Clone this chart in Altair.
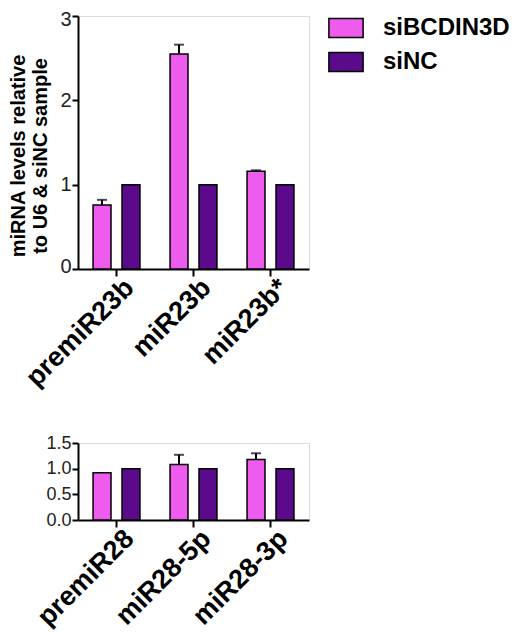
import altair as alt
import pandas as pd

series = ["siBCDIN3D", "siNC"]
colors = ["#EE5CEE", "#5C0A8C"]

top_cats = ["premiR23b", "miR23b", "miR23b*"]
top_si = [0.76, 2.55, 1.16]
top_si_err = [0.06, 0.11, 0.01]
top_nc = [1.0, 1.0, 1.0]

bot_cats = ["premiR28", "miR28-5p", "miR28-3p"]
bot_si = [0.92, 1.08, 1.18]
bot_si_err = [0.0, 0.19, 0.12]
bot_nc = [1.0, 1.0, 1.0]

FONT = "Liberation Sans"


def make_df(cats, si, err, nc):
    rows = []
    for c, v, e in zip(cats, si, err):
        rows.append({"cat": c, "series": series[0], "value": v, "err": e, "upper": v + e})
    for c, v in zip(cats, nc):
        rows.append({"cat": c, "series": series[1], "value": v, "err": 0.0, "upper": v})
    return pd.DataFrame(rows)


def panel(df, cats, ymax, yticks, fmt, height, ytitle, show_legend, min_extent,
          ylabel_size, flush):
    xaxis = alt.Axis(labelAngle=-45, labelFontSize=27, labelFontWeight="bold",
                     labelColor="black", labelFont=FONT,
                     labelAlign="right", labelBaseline="top", labelOffset=4,
                     tickSize=7, tickWidth=2, tickColor="black",
                     domainColor="black", domainWidth=2, labelPadding=-2)
    xscale = alt.Scale(paddingInner=0, paddingOuter=0)
    xoff = alt.XOffset("series:N", sort=series,
                       scale=alt.Scale(paddingInner=0.38, paddingOuter=0.52))
    axis_kw = dict(values=yticks, format=fmt, grid=False, labelFontSize=ylabel_size,
                   labelColor="#222222", labelFont=FONT, labelOverlap=False,
                   tickSize=6, tickWidth=2, tickColor="black",
                   domainColor="black", domainWidth=2, labelPadding=1,
                   titleFontSize=20, titleFontWeight="bold", titleFont=FONT,
                   titleColor="black", titlePadding=9, titleLineHeight=22,
                   titleY=height / 2 + 13)
    if flush:
        axis_kw["labelFlush"] = True
        axis_kw["labelFlushOffset"] = 7
    if min_extent is not None:
        axis_kw["minExtent"] = min_extent
    yaxis = alt.Axis(**axis_kw)
    yscale = alt.Scale(domain=[0, ymax], nice=False)
    ytitle_val = ytitle if ytitle is not None else ""

    def xe():
        return alt.X("cat:N", sort=cats, title=None, scale=xscale, axis=xaxis)

    def ye(field):
        return alt.Y(field, scale=yscale, axis=yaxis, title=ytitle_val)

    if show_legend:
        legend = alt.Legend(title=None, orient="none", legendX=256, legendY=0,
                            labelFontSize=24, labelFontWeight="bold", labelColor="black",
                            labelFont=FONT,
                            symbolType="M-1.8,-1L1.8,-1L1.8,1L-1.8,1Z",
                            symbolSize=361, symbolStrokeColor="black", symbolStrokeWidth=1.5,
                            symbolOpacity=1,
                            rowPadding=8, labelOffset=25)
    else:
        legend = None
    color = alt.Color("series:N", sort=series,
                      scale=alt.Scale(domain=series, range=colors), legend=legend)

    bars = alt.Chart(df).mark_bar(stroke="black", strokeWidth=1.5, opacity=1).encode(
        x=xe(), xOffset=xoff, y=ye("value:Q"), color=color)
    errdf = df[df["err"] > 0]
    err = alt.Chart(errdf).mark_rule(color="black", strokeWidth=2).encode(
        x=xe(), xOffset=xoff, y=ye("value:Q"), y2="upper:Q")
    cap = alt.Chart(errdf).mark_tick(color="black", thickness=2, size=10,
                                     orient="horizontal").encode(
        x=xe(), xOffset=xoff, y=ye("upper:Q"))
    return alt.layer(bars, err, cap).properties(width=231, height=height)


top = panel(make_df(top_cats, top_si, top_si_err, top_nc), top_cats, 3, [0, 1, 2, 3], "d",
            253, ["miRNA levels relative", "to U6 & siNC sample"], True, None, 20, True)
bot = panel(make_df(bot_cats, bot_si, bot_si_err, bot_nc), bot_cats, 1.5,
            [0, 0.5, 1.0, 1.5], ".1f", 77, None, False, 69, 18, False)

chart = alt.concat(top, bot, columns=1, align="none", spacing=41).configure_view(
    stroke=None
).configure(
    background="white", padding={"left": 0, "top": 0, "right": 0, "bottom": 0}
).resolve_scale(color="shared")

chart.save("out.html", embed_options={"renderer": "svg", "actions": False})
